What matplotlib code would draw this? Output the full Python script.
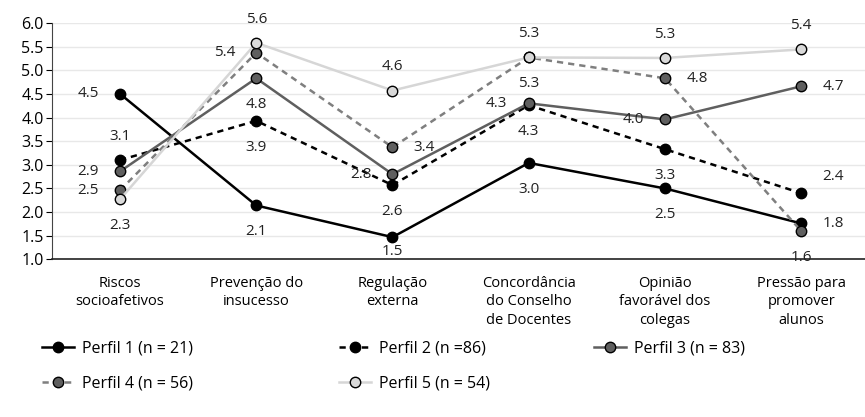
import numpy as np
import matplotlib.pyplot as plt

plt.rcParams['font.family'] = ['Open Sans', 'DejaVu Sans']

categories = ["Riscos\nsocioafetivos", "Prevenção do\ninsucesso", "Regulação\nexterna",
              "Concordância\ndo Conselho\nde Docentes", "Opinião\nfavorável dos\ncolegas",
              "Pressão para\npromover\nalunos"]

perfil1 = [4.5, 2.14, 1.47, 3.04, 2.5, 1.76]
perfil2 = [3.1, 3.93, 2.57, 4.26, 3.33, 2.4]
perfil3 = [2.86, 4.83, 2.8, 4.3, 3.96, 4.66]
perfil4 = [2.46, 5.37, 3.37, 5.27, 4.83, 1.6]
perfil5 = [2.27, 5.58, 4.57, 5.27, 5.26, 5.44]

names = ["Perfil 1 (n = 21)", "Perfil 2 (n =86)", "Perfil 3 (n = 83)",
         "Perfil 4 (n = 56)", "Perfil 5 (n = 54)"]

# where each value label sits relative to its point
label_pos = [
    ['l', 'b', 'bs', 'b', 'b', 'r'],
    ['a', 'b', 'b', 'b', 'b', 'ar'],
    ['l', 'b', 'l', 'l', 'l', 'r'],
    ['l', 'l', 'r', 'b', 'r', 'b'],
    ['b', 'a', 'a', 'a', 'a', 'a'],
]
offsets = {'l': (-23, 0), 'r': (23, 0), 'a': (0, 17), 'b': (0, -19),
           'bs': (0, -10), 'ar': (23, 12)}

styles = [
    dict(color='black', ls='-', mfc='black'),
    dict(color='black', ls=(0, (2.5, 2)), mfc='black'),
    dict(color='#5f5f5f', ls='-', mfc='#5f5f5f'),
    dict(color='#7f7f7f', ls=(0, (2.5, 2)), mfc='#5f5f5f'),
    dict(color='#d6d6d6', ls='-', mfc='#d9d9d9'),
]

fig = plt.figure(figsize=(8.65, 4.17), dpi=100)
ax = fig.add_axes([0.06, 0.378, 0.945, 0.567])

x = np.arange(len(categories))
series = [perfil1, perfil2, perfil3, perfil4, perfil5]
handles = []
for vals, st, name, pos in zip(series, styles, names, label_pos):
    h, = ax.plot(x, vals, color=st['color'], ls=st['ls'], lw=1.8, marker='o',
                 ms=7.5, mfc=st['mfc'], mec='black', mew=1.0, label=name)
    handles.append(h)
    for xi, v, p in zip(x, vals, pos):
        ax.annotate(f"{v:.1f}", (xi, v), xytext=offsets[p], textcoords='offset points',
                    ha='center', va='center', fontsize=11, color='#222222')

ax.set_xlim(-0.5, 5.5)
ax.set_ylim(1.0, 6.0)
ticks = np.arange(1.0, 6.01, 0.5)
ax.set_yticks(ticks)
ax.set_yticklabels([f"{t:.1f}" for t in ticks], fontsize=11.5)
ax.set_xticks(x)
ax.set_xticklabels(categories, fontsize=10.5, linespacing=1.3)
ax.tick_params(axis='x', length=0, pad=12)
ax.tick_params(axis='y', length=4, width=0.8, pad=2)
ax.grid(axis='y', color='#e8e8e8', lw=1)
ax.set_axisbelow(True)
for s in ['top', 'right']:
    ax.spines[s].set_visible(False)
ax.spines['left'].set_color('#444444')
ax.spines['bottom'].set_color('#222222')
ax.spines['bottom'].set_linewidth(1.2)

# legend laid out as three fixed columns, like the original
columns = [[0, 3], [1, 4], [2]]
col_x = [31, 328, 583]
for idx, cx in zip(columns, col_x):
    fig.legend([handles[i] for i in idx], [names[i] for i in idx],
               loc='upper left', bbox_to_anchor=(cx / 865, 1 - 329 / 417),
               frameon=False, fontsize=11.5, handlelength=2.0,
               handletextpad=0.5, labelspacing=1.2, borderpad=0.2)

fig.savefig("out.png", dpi=100)
